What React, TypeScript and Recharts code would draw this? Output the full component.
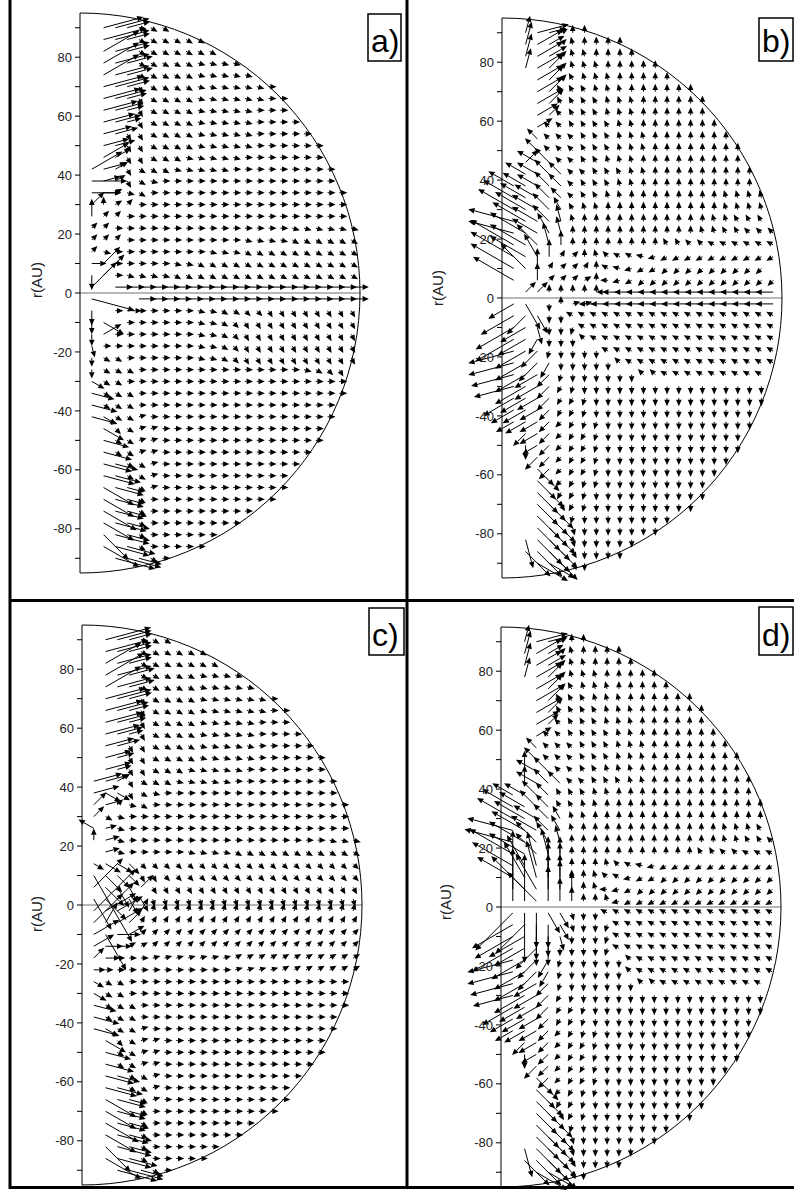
import React from 'react';
import { ScatterChart, Scatter, XAxis, YAxis, ReferenceLine, ReferenceDot } from 'recharts';

// grid of the vector field (AU): rows top to bottom, columns from the axis outwards
const ROW_Y = [90, 86, 82, 78, 74, 70, 66, 62, 58, 54, 50, 46, 42, 38, 34, 30, 26, 22, 18, 14, 10, 6, 2,
  -2, -6, -10, -14, -18, -22, -26, -30, -34, -38, -42, -46, -50, -54, -58, -62, -66, -70, -74, -78, -82, -86, -90];
const COL_X = [4, 8, 12, 16, 20, 24, 28, 32, 36, 40, 44, 48, 52, 56, 60, 64, 68, 72, 76, 80, 84, 88, 92];
const Y_TICKS = [-90, -80, -70, -60, -50, -40, -30, -20, -10, 0, 10, 20, 30, 40, 50, 60, 70, 80, 90];
const R_MAX = 95;

// one token per grid cell: direction letter (a = 0deg, 15deg steps counter-clockwise),
// optional length in AU (default 2.7), "*n" repeats the token, "." = no arrow
const DIRS = 'abcdefghijklmnopqrstuvwx';

const UPPER_A = [
  '. b14 b12 b8 x w w',
  '. b15 b12 b8 w*6',
  '. c14 b12 b8 w*7',
  '. c14 b12 b9 w*5 x*4',
  '. c14 b12 b9 w*5 x*5',
  '. b14 b12 b8 u w*4 x*6 a',
  '. b13 b11 b7 u w*4 x*6 a*2',
  '. b12 b10 b6 u w*4 x*5 a*3',
  '. b11 b9 b5 u w*4 x*5 a*4',
  '. b10 b8 u u w*4 x*5 a*5',
  '. b9 b7 u u w*4 x*5 a*6',
  '. c10 c6 u u w*3 x*5 a*7',
  'c12 b8 c5 u w*3 x*5 a*9',
  'a12 b6 c4 u w x a*15',
  'a10 a6 c x w a*17',
  'd6 g c d a*18',
  'g6 d d a*19',
  'd d a*15 x*6',
  'd d d a*10 x*4 w*6',
  'd x a*8 x*3 w*10',
  'a5 d8 a*5 x x w*14',
  's5 d10 a x*4 w*16',
  'd12 . a6*21',
];

const EQUATOR_A = [
  'x15 . . . a6*19',
  's5 . a a5 a*5 x x w w v v u*8',
  's4 w8 . a*6 x x w v u*10',
  's4 c7 a*7 x x w v u*10',
  't4 a*8 x x w v u*10',
  's3 w w a*6 x x w v u*10',
  's3 w w w a*14 x w v u',
];

const LOWER_AC = [
  'w5 w w a*19',
  'x8 w w w a*18',
  'x9 w w w a*17',
  'x9 w5 w w b a*16',
  '. w8 v w b b a*14',
  '. x9 w w b b a*14',
  '. x10 w w b b a*13',
  '. x10 x8 w w b a*12',
  '. x11 x9 w w b a*11',
  '. w12 x10 x6 w b a*11',
  '. w12 x10 x6 w a*11',
  '. w13 x10 x7 w a*9',
  '. w12 x11 x8 w a*8',
  '. v12 x12 x8 w a*6',
  '. w14 x12 x10 w a*5',
  '. . x14 x12 x8 w a',
];

const UPPER_C = [
  '. b16 b12 b8 x w w',
  '. b15 b12 b8 w*6',
  '. c14 b12 b8 w*7',
  '. c15 b12 b9 w*5 x*4',
  '. c14 b12 b9 w*5 x*5',
  '. b14 b12 b8 u w*4 x*6 a',
  '. b13 b11 b7 u w*4 x*6 a*2',
  '. b13 b10 b6 u w*4 x*5 a*3',
  '. b12 b9 b5 u w*4 x*5 a*4',
  '. b10 b8 u u w*4 x*5 a*5',
  '. b9 b6 u u w*4 x*5 a*6',
  '. b9 b5 u u w*3 x*5 a*7',
  'b10 b8 c5 u w*3 x*5 a*9',
  'b9 w6 w5 u w x a*15',
  'd6 b6 d x w a*17',
  'd5 w x a*19',
  'k6 b4 x a*19',
  'g4 b5 x a*17 x x x',
  '. b5 x a*5 x*4 w*11',
  'w4 w6 w6 v5 v*19',
  'u26 v8 v6 v5 u u v*17',
  'd14 v9 u8 u6 d6 u u*17',
  'u12 v10 d8 u6 u5 t t t*16',
];

const EQUATOR_C = [
  'd20 c12 c10 e6 e5 f f f*16',
  'd14 e8 c10 d6 e e e*17',
  'c10 u14 a8 c6 d d d*17',
  'c8 a6 a5 c c d*18',
  'd5 a5 a a a b*7 c*11',
  'a4 a*11 b*4 c*7',
  'w4 w w a*19',
];

const UPPER_B = [
  '. f6 b11 b6 c g g',
  '. f8 c10 c6 d h g*4',
  '. f8 c10 c7 d h h g*4',
  '. f7 c10 d7 d h*3 g*5',
  '. . c10 d7 d i h*3 g*5',
  '. . c10 d8 i*3 h*3 g*6',
  '. . c10 d7 i*4 h*3 g*6',
  '. . c8 d5 j i*3 h*3 g*6',
  '. . c6 j j i*4 h h g*7',
  '. . j5 j j j i*3 h*3 g*7',
  '. . j6 j j j i*3 h*3 g*8',
  '. d6 k8 j7 j j i i h*3 g*9',
  '. k8 k8 j7 j6 j j i*3 h h g*9',
  'k10 k9 k8 j7 j6 j i*3 h h g*10',
  'k12 k10 k9 j7 j5 j i i h h g*8 h*4',
  'k14 k12 k10 j8 i5 i h h g*10 h*4',
  'l16 k13 k10 j8 h6 h g*11 h h i i i',
  'l16 k14 k10 i8 h6 g*11 h h i i j j j',
  'k17 k14 j10 h8 g5 g*8 i i j j k*6',
  'k17 k14 i9 g6 e d g h j k k l n o*10',
  'k17 j12 g7 e d d e g k l n o o p*9',
  'k16 . g6 d d d c g m n o p*12',
  '. d5 d5 g*5 m4 m6*14',
];

const EQUATOR_B = [
  'o10 u10 . s g b b m6*16',
  'o13 p9 u7 s s k*18',
  'o15 o10 t6 s s r k*17',
  'o15 o11 q6 s s s j k*16',
  'n16 o12 p8 r s s s s k*15',
  'n16 o12 p9 q6 s*5 j k*13',
];

const LOWER_BD = [
  'n15 o12 o9 p6 r s*6 j*2 k*9',
  'n14 o12 o9 p6 q r s*16',
  'o12 o10 o8 p6 q q r s*15',
  'o9 o9 o7 p5 q q r s*14',
  'o7 o8 o7 p5 p q r r s*13',
  '. p6 o7 p5 p q q r s*12',
  '. s5 o6 p5 p q q r s*12',
  '. . p6 p5 p q q r s*11',
  '. . v8 p5 p q q r s*10',
  '. . v9 v5 p q r r s*9',
  '. . v10 v7 q q r s*10',
  '. . v10 v8 u q r s*9',
  '. . v11 v9 v6 r s*8',
  '. . v11 v9 v7 t s*7',
  '. t10 v12 v10 v7 t s*5',
  '. v12 v12 v10 v8 u s*4',
  '. . w12 w10 v8 u s',
];

const UPPER_D = [
  '. f6 b11 b7 c g g',
  '. f8 c10 c6 d h g*4',
  '. f8 c10 c7 d h h g*4',
  '. f7 c10 d7 d h*3 g*5',
  '. . c10 d7 d i h*3 g*5',
  '. . c11 d8 i*3 h*3 g*6',
  '. . c10 d7 i*4 h*3 g*6',
  '. . c9 d5 j i*3 h*3 g*6',
  '. . c6 j j i*4 h h g*7',
  '. . j5 j j j i*3 h*3 g*7',
  '. . j6 j j j i*3 h*3 g*8',
  '. g7 k8 j7 j j i i h*3 g*9',
  '. g6 k8 j7 j6 j j i*3 h h g*9',
  'k8 k8 j7 j6 i i i h h g*12',
  'k12 k10 j8 j6 i i h h g*14',
  'k14 k12 k9 j7 i5 h h g*15',
  'l16 k13 k10 j7 i6 h g*12 h h h i',
  'l17 k14 j10 i8 h6 g*13 h h i i j',
  'k17 k14 j10 h9 g6 g*11 i i j j k k k',
  'k16 i12 h12 g10 g8 g g g h j k l n o*10',
  'k14 i14 h13 g12 g8 g g h j k n o o p*10',
  'g20 j16 i14 g12 g10 g6 g h m n o p*12',
  'g18 g16 j14 g12 g8 g5 g g h n o o*12',
];

const EQUATOR_D = [
  'p18 s17 s12 u8 u6 t s s k*15',
  'o16 p14 s12 s8 u6 t s s r k*14',
  'o15 o14 s10 s7 t5 s s s r k*14',
  'o16 o12 p10 s6 s s s s r k*14',
  'n16 o13 p9 q7 r s*5 j k*12',
  'n16 o12 p9 q6 r s*5 j k*12',
];

const FIELD_A = [...UPPER_A, ...EQUATOR_A, ...LOWER_AC];
const FIELD_B = [...UPPER_B, ...EQUATOR_B, ...LOWER_BD];
const FIELD_C = [...UPPER_C, ...EQUATOR_C, ...LOWER_AC];
const FIELD_D = [...UPPER_D, ...EQUATOR_D, ...LOWER_BD];

type Vec = { x: number; y: number; ang: number; len: number };

const expandRow = (row: string) =>
  row.trim().split(/\s+/).flatMap((tok) => {
    const [t, n] = tok.split('*');
    return Array(n ? Number(n) : 1).fill(t) as string[];
  });

const buildField = (rows: string[]): Vec[] => {
  const out: Vec[] = [];
  rows.forEach((row, i) => {
    expandRow(row).forEach((tok, j) => {
      if (tok === '.') return;
      out.push({
        x: COL_X[j],
        y: ROW_Y[i],
        ang: DIRS.indexOf(tok[0]) * 15,
        len: tok.length > 1 ? Number(tok.slice(1)) : 2.7,
      });
    });
  });
  return out;
};

const PLOT_W = 280;
const PLOT_H = 560;
const PX = PLOT_H / (2 * R_MAX);
const AXIS_W = 60;
const M = { top: 10, right: 30, bottom: 10, left: 0 };

const Arrow = (props: any) => {
  const { cx, cy, payload } = props;
  if (cx == null || cy == null || !payload) return null;
  const a = (payload.ang * Math.PI) / 180;
  const ux = Math.cos(a);
  const uy = -Math.sin(a);
  const L = payload.len * PX;
  const tx = cx + ux * L;
  const ty = cy + uy * L;
  const h = Math.min(6.3, L);
  const w = 2.8;
  const bx = tx - ux * h;
  const by = ty - uy * h;
  return (
    <g>
      <line x1={cx} y1={cy} x2={bx} y2={by} stroke="#000" strokeWidth={1} />
      <polygon
        points={`${tx},${ty} ${bx - uy * w},${by + ux * w} ${bx + uy * w},${by - ux * w}`}
        fill="#000"
      />
    </g>
  );
};

const SemiCircle = (props: any) => {
  const { cx, cy } = props;
  const r = R_MAX * PX;
  return <path d={`M${cx},${cy - r} A${r},${r} 0 0 1 ${cx},${cy + r}`} fill="none" stroke="#000" strokeWidth={1} />;
};

const Panel = ({ rows, left, top }: { rows: string[]; left: number; top: number }) => {
  const data = buildField(rows);
  return (
    <div style={{ position: 'absolute', left: left - AXIS_W, top: top - M.top }}>
      <ScatterChart width={AXIS_W + PLOT_W + M.right} height={PLOT_H + M.top + M.bottom} margin={M}>
        <XAxis type="number" dataKey="x" domain={[0, R_MAX]} hide />
        <YAxis
          type="number"
          dataKey="y"
          domain={[-R_MAX, R_MAX]}
          ticks={Y_TICKS}
          interval={0}
          width={AXIS_W}
          tickSize={5}
          tickMargin={3}
          axisLine={{ stroke: '#000', strokeWidth: 1 }}
          tickLine={{ stroke: '#000', strokeWidth: 1 }}
          tick={{ fill: '#222', fontSize: 13, fontFamily: 'Liberation Sans, Arial, sans-serif' }}
          tickFormatter={(v: number) => (v % 20 === 0 ? String(v) : '')}
        />
        <ReferenceLine y={0} stroke="#a0a0a0" strokeWidth={1.3} />
        <ReferenceDot x={0} y={0} r={0} ifOverflow="visible" shape={SemiCircle} />
        <Scatter data={data} shape={Arrow} isAnimationActive={false} />
      </ScatterChart>
    </div>
  );
};

const PANELS = [
  { rows: FIELD_A, left: 80, top: 13 },
  { rows: FIELD_B, left: 502, top: 18 },
  { rows: FIELD_C, left: 82, top: 625 },
  { rows: FIELD_D, left: 501, top: 627 },
];

const TAGS = [
  { text: 'a)', x: 368, y: 14, w: 33, h: 47 },
  { text: 'b)', x: 759, y: 18, w: 34, h: 43 },
  { text: 'c)', x: 369, y: 608, w: 35, h: 47 },
  { text: 'd)', x: 759, y: 607, w: 34, h: 48 },
];

const AXIS_LABELS = [
  { x: 36, y: 280 },
  { x: 437, y: 288 },
  { x: 36, y: 914 },
  { x: 445, y: 902 },
];

export default function App() {
  return (
    <div
      style={{
        position: 'absolute',
        left: 0,
        top: 0,
        width: 794,
        height: 1196,
        background: '#fff',
        overflow: 'hidden',
        fontFamily: 'Liberation Sans, Arial, sans-serif',
      }}
    >
      {PANELS.map((p, i) => (
        <Panel key={i} rows={p.rows} left={p.left} top={p.top} />
      ))}
      <svg width={794} height={1196} style={{ position: 'absolute', left: 0, top: 0, pointerEvents: 'none' }}>
        <line x1={10} y1={0} x2={10} y2={1189} stroke="#000" strokeWidth={3} />
        <line x1={407} y1={0} x2={407} y2={1189} stroke="#000" strokeWidth={3} />
        <line x1={9} y1={600.5} x2={794} y2={600.5} stroke="#000" strokeWidth={3} />
        <line x1={9} y1={1187.5} x2={794} y2={1187.5} stroke="#000" strokeWidth={3} />
        {TAGS.map((t) => (
          <g key={t.text}>
            <rect x={t.x} y={t.y} width={t.w} height={t.h} fill="#fff" stroke="#000" strokeWidth={1.5} />
            <text x={t.x + 3} y={t.y + t.h - 9} fontSize={32} fill="#000">
              {t.text}
            </text>
          </g>
        ))}
        {AXIS_LABELS.map((l, i) => (
          <text
            key={i}
            transform={`translate(${l.x},${l.y}) rotate(-90)`}
            textAnchor="middle"
            dominantBaseline="central"
            fontSize={15}
            fill="#222"
          >
            r(AU)
          </text>
        ))}
      </svg>
    </div>
  );
}
